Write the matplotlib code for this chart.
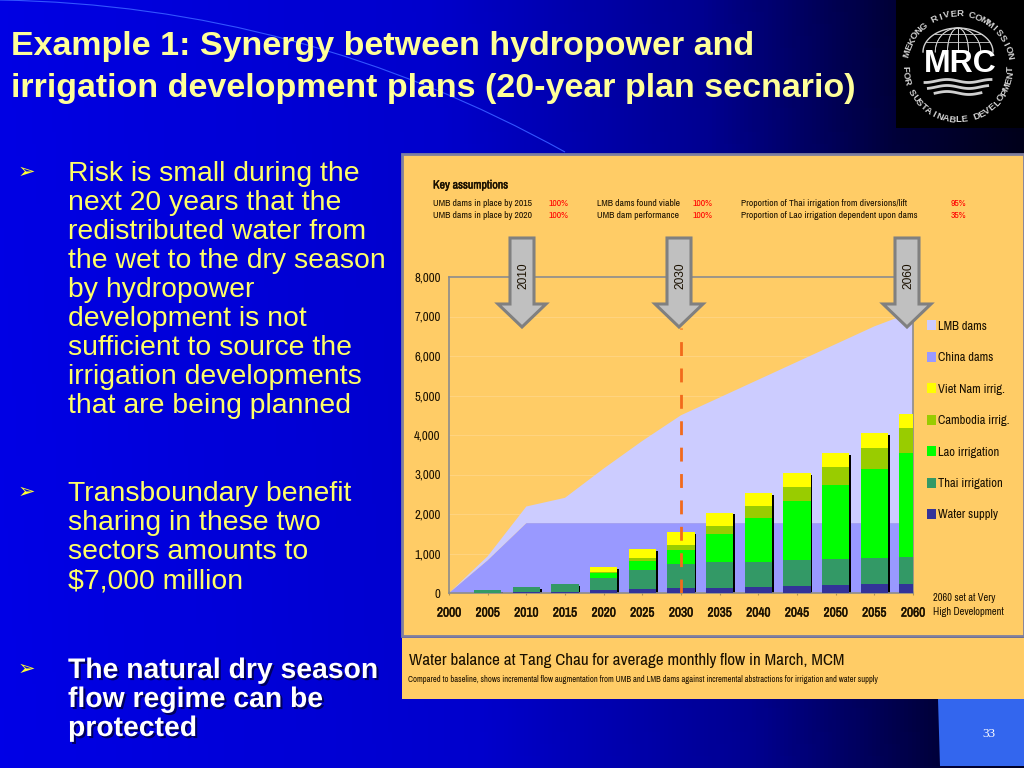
#Import necessary libraries
import numpy as np
import matplotlib
matplotlib.use('Agg')
import matplotlib.pyplot as plt
import matplotlib.patheffects as pe
from matplotlib.colors import LinearSegmentedColormap
from matplotlib.patches import Rectangle, Polygon, PathPatch, Patch
from matplotlib.path import Path

#Chart data (MCM)
years = [2000, 2005, 2010, 2015, 2020, 2025, 2030, 2035, 2040, 2045, 2050, 2055, 2060]
china_dams = [0, 830, 1770, 1770, 1770, 1770, 1770, 1770, 1770, 1770, 1770, 1770, 1770]
lmb_dams = [0, 100, 420, 640, 1380, 2080, 2730, 3180, 3630, 4080, 4530, 4980, 5350]
water_supply = [0, 0, 15, 25, 65, 95, 125, 135, 150, 170, 195, 220, 235]
thai_irrigation = [0, 70, 135, 195, 320, 480, 615, 640, 640, 660, 665, 665, 685]
lao_irrigation = [0, 0, 0, 0, 120, 230, 355, 725, 1115, 1495, 1865, 2260, 2630]
cambodia_irrigation = [0, 0, 0, 0, 35, 70, 110, 195, 285, 365, 455, 515, 615]
viet_nam_irrigation = [0, 0, 0, 0, 120, 230, 330, 340, 340, 345, 355, 380, 365]
y_ticks = [0, 1000, 2000, 3000, 4000, 5000, 6000, 7000, 8000]
marked_years = [2010, 2030, 2060]

#Slide text
title_lines = ['Example 1: Synergy between hydropower and',
               'irrigation development plans (20-year plan secnario)']
bullet_1 = ['Risk is small during the', 'next 20 years that the', 'redistributed water from',
            'the wet to the dry season', 'by hydropower', 'development is not',
            'sufficient to source the', 'irrigation developments', 'that are being planned']
bullet_2 = ['Transboundary benefit', 'sharing in these two', 'sectors amounts to', '$7,000 million']
bullet_3 = ['The natural dry season', 'flow regime can be', 'protected']

W, H = 1024, 768
NARROW = ['Archivo Narrow', 'Liberation Sans']
PANEL = '#FFCC66'
INK = '#1A1000'
#the narrow font has no bold file, so bold text gets a thin stroke
FAKE_BOLD = [pe.withStroke(linewidth = 0.3, foreground = INK)]
plt.rcParams['font.family'] = ['Liberation Sans', 'DejaVu Sans']

fig = plt.figure(figsize = (W/100, H/100), dpi = 100)

#Page layer, coordinates in pixels
page = fig.add_axes([0, 0, 1, 1], zorder = 0)
blues = LinearSegmentedColormap.from_list('slide', [(0, '#0000E6'), (0.45, '#0000CC'), (0.7, '#000090'),
                                                    (0.88, '#000038'), (1, '#000018')])
xx, yy = np.meshgrid(np.linspace(0, 1, 256), np.linspace(0, 1, 64))
page.imshow(xx*0.95 + (1 - yy)*0.05, cmap = blues, vmin = 0, vmax = 1, extent = (0, W, H, 0), aspect = 'auto')
page.set_xlim(0, W)
page.set_ylim(H, 0)
page.axis('off')

#Thin arc behind the title
arc = Path([(0, 0), (300, 5), (565, 152)], [Path.MOVETO, Path.CURVE3, Path.CURVE3])
page.add_patch(PathPatch(arc, facecolor = 'none', edgecolor = '#3355FF', lw = 0.8))

#Panels and page number box
page.add_patch(Rectangle((402, 154), 622, 482, fc = PANEL, ec = '#7F7F9F', lw = 2))
page.add_patch(Rectangle((402, 638), 622, 61, fc = PANEL, ec = 'none'))
page.add_patch(Polygon([(938, 699), (1024, 699), (1024, 766), (940, 766)], fc = '#3366EE', ec = 'none'))
page.text(989, 734, '33', color = 'white', fontsize = 9.5, family = 'Liberation Serif', ha = 'center', va = 'center')

#Title and bullets
for i, line in enumerate(title_lines):
    page.text(11, 55 + 42*i, line, color = '#FFFF99', fontsize = 24.5, fontweight = 'bold', va = 'baseline')
for start, lines, bold in [(181, bullet_1, False), (501, bullet_2, False), (678, bullet_3, True)]:
    page.text(26, start - 3, '\u27a2', color = '#FFFF33', fontsize = 15, family = 'DejaVu Sans', ha = 'center', va = 'baseline')
    for i, line in enumerate(lines):
        t = page.text(68, start + 29*i, line, color = 'white' if bold else '#FFFF66', fontsize = 20.4,
                      fontweight = 'bold' if bold else 'normal', va = 'baseline')
        if bold:
            t.set_path_effects([pe.SimplePatchShadow(offset = (1.5, -1.5), shadow_rgbFace = '#000050', alpha = 0.9), pe.Normal()])

#MRC logo
page.add_patch(Rectangle((896, 0), 128, 128, fc = 'black', ec = 'none'))
cx, cy, logo_gray = 958, 67, '#D0D0D0'
def ring_text(text, a_start, a_end, radius, flip):
    for ch, a in zip(text, np.linspace(a_start, a_end, len(text))):
        px = cx + radius*np.cos(np.radians(a))
        py = cy - radius*np.sin(np.radians(a))
        page.text(px, py, ch, color = logo_gray, fontsize = 6.8, fontweight = 'bold', ha = 'center', va = 'center',
                  rotation = a + 90 if flip else a - 90, rotation_mode = 'anchor')
ring_text('MEKONG RIVER COMMISSION', 165, 12, 53, False)
ring_text('FOR SUSTAINABLE DEVELOPMENT', 182, 358, 53, True)
dome = np.linspace(0, np.pi, 60)
page.plot(cx + 35*np.cos(dome), 52 - 24*np.sin(dome), color = logo_gray, lw = 1)
for k in [-0.65, -0.3, 0, 0.3, 0.65]:
    page.plot(cx + 35*k*np.cos(dome), 52 - 24*np.sin(dome), color = logo_gray, lw = 0.6)
for h, half in [(34, 24), (42, 32)]:
    page.plot([cx - half, cx + half], [h, h], color = logo_gray, lw = 0.6)
page.text(cx + 2, 64, 'MRC', color = 'white', fontsize = 23, fontweight = 'bold', ha = 'center', va = 'center')
wave_x = np.linspace(-33, 33, 60)
for h, half in [(81, 33), (87, 30), (93, 24)]:
    inside = np.abs(wave_x) <= half
    page.plot(cx + wave_x[inside], h + 1.5*np.sin(wave_x[inside]/7), color = logo_gray, lw = 2)

#Panel texts
page.text(433, 185, 'Key assumptions', family = NARROW, fontsize = 8.6, color = INK, va = 'center', path_effects = FAKE_BOLD)
rows = [(203, 'UMB dams in place by 2015', '100%', 'LMB dams found viable', '100%', 'Proportion of Thai irrigation from diversions/lift', '95%'),
        (216, 'UMB dams in place by 2020', '100%', 'UMB dam performance', '100%', 'Proportion of Lao irrigation dependent upon dams', '35%')]
for y, a, av, b, bv, c, cv in rows:
    for px, s in [(433, a), (597, b), (741, c)]:
        page.text(px, y, s, family = NARROW, fontsize = 6.9, color = INK, va = 'center')
    for px, s in [(549, av), (693, bv), (951, cv)]:
        page.text(px, y, s, family = NARROW, fontsize = 6.9, color = '#FF0000', va = 'center')
page.text(409, 661, 'Water balance at Tang Chau for average monthly flow in March, MCM', family = NARROW, fontsize = 12.3, color = INK, va = 'center')
page.text(408, 679, 'Compared to baseline, shows incremental flow augmentation from UMB and LMB dams against incremental abstractions for irrigation and water supply',
          family = NARROW, fontsize = 6.1, color = INK, va = 'center')
page.text(933, 598, '2060 set at Very', family = NARROW, fontsize = 7.5, color = INK, va = 'center')
page.text(933, 612, 'High Development', family = NARROW, fontsize = 7.5, color = INK, va = 'center')

#Chart, axes box in pixels: x 449-913, y 277-593
ax = fig.add_axes([449/W, 1 - 593/H, (913 - 449)/W, (593 - 277)/H], zorder = 1)
ax.patch.set_alpha(0)
x = np.array(years, dtype = float)
ax.stackplot(x, china_dams, lmb_dams, colors = ['#9999FF', '#CCCCFF'], lw = 0, zorder = 1)

stack = [(water_supply, '#333399'), (thai_irrigation, '#339966'), (lao_irrigation, '#00FF00'),
         (cambodia_irrigation, '#99CC00'), (viet_nam_irrigation, '#FFFF00')]
bar_width = 3.5
bottom = np.zeros(len(years))
totals = np.sum([s[0] for s in stack], axis = 0)
ax.bar(x + 0.22, totals - 40, width = bar_width, color = 'black', zorder = 2)
for values, colour in stack:
    ax.bar(x, values, width = bar_width, bottom = bottom, color = colour, zorder = 3)
    bottom = bottom + np.array(values)

ax.plot([2030, 2030], [0, 6700], color = '#F26A1B', lw = 2, dashes = (5, 4.5), zorder = 4)

ax.set_xlim(2000, 2060)
ax.set_ylim(0, 8000)
ax.set_xticks(years)
ax.set_yticks(y_ticks)
ax.set_yticklabels([f'{v:,}' for v in y_ticks], family = NARROW, fontsize = 9.2, color = INK)
ax.set_xticklabels([str(v) for v in years], family = NARROW, fontsize = 9.6, color = INK, path_effects = FAKE_BOLD)
ax.tick_params(axis = 'y', length = 0, pad = 6)
ax.tick_params(axis = 'x', length = 3, color = '#B08F50', pad = 9, direction = 'inout')
for spine in ax.spines.values():
    spine.set_color('#8C8C8C')
    spine.set_linewidth(1.2)
ax.grid(axis = 'y', color = '#FFD480', lw = 0.7, zorder = 0)
ax.set_axisbelow(True)

#Legend
names = ['LMB dams', 'China dams', 'Viet Nam irrig.', 'Cambodia irrig.', 'Lao irrigation', 'Thai irrigation', 'Water supply']
colours = ['#CCCCFF', '#9999FF', '#FFFF00', '#99CC00', '#00FF00', '#339966', '#333399']
handles = [Patch(fc = c, ec = 'none') for c in colours]
fig.legend(handles, names, loc = 'upper left', bbox_to_anchor = (927/W, 1 - 320/H), frameon = False,
           prop = {'family': NARROW, 'size': 9}, labelcolor = INK, handlelength = 0.75, handleheight = 0.9,
           handletextpad = 0.12, labelspacing = 1.6, borderpad = 0, borderaxespad = 0)

#Arrows over the chart
top = fig.add_axes([0, 0, 1, 1], zorder = 2)
top.set_xlim(0, W)
top.set_ylim(H, 0)
top.axis('off')
for year, cx_arrow in zip(marked_years, [522, 679, 907]):
    shape = [(cx_arrow - 12, 238), (cx_arrow + 12, 238), (cx_arrow + 12, 304), (cx_arrow + 24, 304),
             (cx_arrow, 327), (cx_arrow - 24, 304), (cx_arrow - 12, 304)]
    top.add_patch(Polygon(shape, closed = True, fc = '#C0C0C0', ec = '#808080', lw = 2.2, joinstyle = 'miter'))
    top.text(cx_arrow + 1, 276, str(year), rotation = 90, ha = 'center', va = 'center', fontsize = 8.6, color = INK)

plt.savefig('out.png', dpi = 100)
